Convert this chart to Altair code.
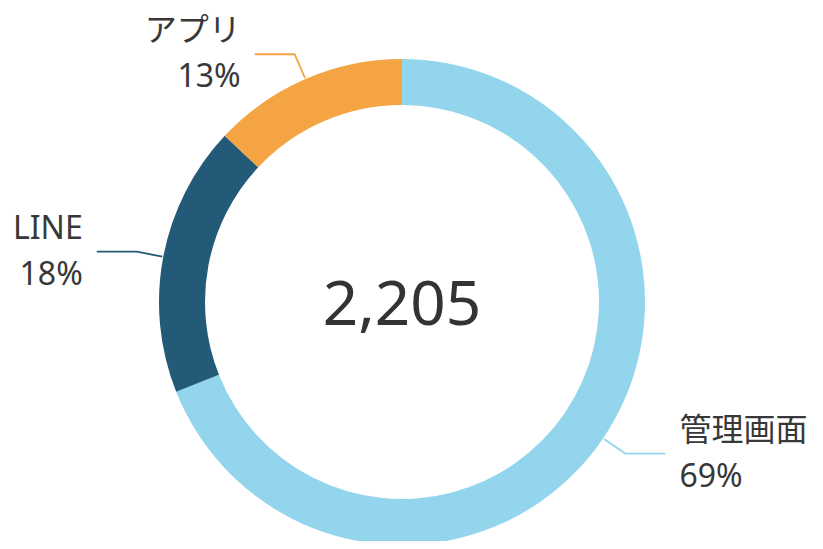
import altair as alt
import pandas as pd
import numpy as np

# ---- data ----
categories = ["管理画面", "LINE", "アプリ"]
counts = [1521, 397, 287]
colors = ["#93d5ec", "#235a78", "#f5a443"]

# ---- layout ----
W, H = 807, 533
CX, CY = 394, 294
R_OUT, R_IN = 243, 197
FONT = "Noto Sans, Noto Sans CJK JP, sans-serif"
LABEL_SIZE = 32

total = sum(counts)
df = pd.DataFrame({"cat": categories, "count": counts, "order": list(range(len(categories)))})
df["pct"] = [f"{round(c / total * 100)}%" for c in counts]
cum = np.cumsum(counts)
mid = (cum - np.array(counts) / 2) / total * 2 * np.pi
side = np.sign(np.sin(mid))

sx = CX + (R_OUT + 1) * np.sin(mid)
sy = CY - (R_OUT + 1) * np.cos(mid)
ex = CX + (R_OUT + 27) * np.sin(mid)
ey = CY - (R_OUT + 27) * np.cos(mid)
hx = ex + side * 40
df["tx"] = hx + side * 14
df["ty"] = ey
df["side"] = side

rows = []
for i, c in enumerate(categories):
    rows += [
        {"cat": c, "step": 0, "px": sx[i], "py": sy[i]},
        {"cat": c, "step": 1, "px": ex[i], "py": ey[i]},
        {"cat": c, "step": 2, "px": hx[i], "py": ey[i]},
    ]
lines_df = pd.DataFrame(rows)

color_scale = alt.Scale(domain=categories, range=colors)

arc = alt.Chart(df).mark_arc(innerRadius=R_IN, outerRadius=R_OUT).encode(
    theta=alt.Theta("count:Q", stack=True),
    order=alt.Order("order:Q"),
    color=alt.Color("cat:N", scale=color_scale, legend=None),
    x=alt.value(CX),
    y=alt.value(CY),
)

leaders = alt.Chart(lines_df).mark_line(strokeWidth=1.8).encode(
    x=alt.X("px:Q", scale=None, axis=None),
    y=alt.Y("py:Q", scale=None, axis=None),
    detail="cat:N",
    order="step:Q",
    color=alt.Color("cat:N", scale=color_scale, legend=None),
)

def labels(sel, align):
    base = alt.Chart(df).transform_filter(sel)
    name = base.mark_text(align=align, baseline="middle", fontSize=LABEL_SIZE, font=FONT,
                          color="#383838", dy=-23).encode(
        x=alt.X("tx:Q", scale=None, axis=None),
        y=alt.Y("ty:Q", scale=None, axis=None),
        text="cat:N",
    )
    pct = base.mark_text(align=align, baseline="middle", fontSize=LABEL_SIZE, font=FONT,
                         color="#383838", dy=23).encode(
        x=alt.X("tx:Q", scale=None, axis=None),
        y=alt.Y("ty:Q", scale=None, axis=None),
        text="pct:N",
    )
    return name + pct

center = alt.Chart(pd.DataFrame({"t": [f"{total:,}"]})).mark_text(
    fontSize=62, font=FONT, color="#333333", baseline="middle", align="center"
).encode(x=alt.value(CX), y=alt.value(CY + 4), text="t:N")

chart = alt.layer(
    arc, leaders,
    labels("datum.side > 0", "left"),
    labels("datum.side < 0", "right"),
    center,
).properties(width=W, height=H, autosize="none", padding=0).configure_view(stroke=None)

chart.save("out.html", embed_options={"renderer": "svg", "actions": False})
